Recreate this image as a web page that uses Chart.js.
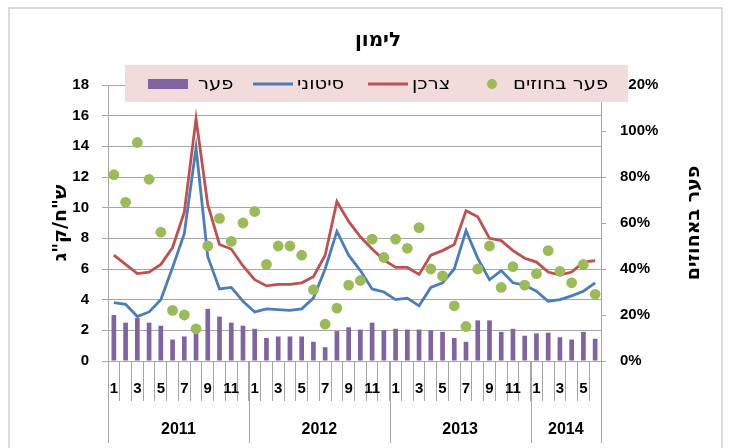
<!DOCTYPE html>
<html>
<head>
<meta charset="utf-8">
<script src="https://cdn.jsdelivr.net/npm/chart.js@4.4.1/dist/chart.umd.min.js"></script>
<style>
  html, body { margin: 0; padding: 0; background: #fff; }
  #wrap { width: 731px; height: 448px; }
</style>
</head>
<body>
<div id="wrap"><canvas id="chart"></canvas></div>
<script>
// months of each year, 2011-01 .. 2014-06
const monthLabels = [1, 2, 3, 4, 5, 6, 7, 8, 9, 10, 11, 12,
  1, 2, 3, 4, 5, 6, 7, 8, 9, 10, 11, 12,
  1, 2, 3, 4, 5, 6, 7, 8, 9, 10, 11, 12,
  1, 2, 3, 4, 5, 6]
const yearLabels = ["2011", "2012", "2013", "2014"]
const yearMonths = [12, 12, 12, 6]

// ש"ח/ק"ג
const consumer = [6.9, 6.3, 5.7, 5.8, 6.3, 7.4, 9.7, 15.8, 10.2, 7.6, 7.3, 6.2,
  5.3, 4.9, 5.0, 5.0, 5.1, 5.5, 6.9, 10.4, 9.1, 8.1, 7.3, 6.6,
  6.1, 6.1, 5.65, 6.9, 7.2, 7.6, 9.8, 9.4, 8.0, 7.85, 7.2, 6.7,
  6.45, 5.8, 5.6, 5.8, 6.45, 6.55]
const wholesale = [3.8, 3.7, 2.9, 3.2, 4.0, 6.1, 8.3, 13.9, 6.8, 4.7, 4.8, 3.9,
  3.2, 3.4, 3.35, 3.3, 3.4, 4.1, 6.0, 8.45, 6.9, 5.9, 4.7, 4.5,
  4.0, 4.1, 3.6, 4.8, 5.1, 6.0, 8.5, 6.7, 5.3, 5.9, 5.1, 4.95,
  4.55, 3.9, 4.0, 4.25, 4.55, 5.1]
const gap = [3.0, 2.5, 2.8, 2.5, 2.3, 1.4, 1.6, 1.9, 3.4, 2.9, 2.5, 2.3,
  2.1, 1.5, 1.6, 1.6, 1.6, 1.25, 0.9, 1.95, 2.2, 2.05, 2.5, 2.0,
  2.1, 2.05, 2.05, 2.0, 1.9, 1.5, 1.25, 2.65, 2.65, 1.9, 2.1, 1.65,
  1.8, 1.85, 1.55, 1.4, 1.9, 1.45]
// percent
const gapPct = [81, 69, 95, 79, 56, 22, 20, 14, 50, 62, 52, 60,
  65, 42, 50, 50, 46, 31, 16, 23, 33, 35, 53, 45,
  53, 49, 58, 40, 37, 24, 15, 40, 50, 32, 41, 33,
  38, 48, 39, 34, 42, 29]

const leftTicks = { min: 0, max: 18, step: 2 }
const rightTicks = { min: 0, max: 120, step: 20 }
const rightTitle = "פער באחוזים"

Chart.defaults.font.family = "'Liberation Sans', Arial, sans-serif"
Chart.defaults.color = "#000"

const hebrewFont = "'DejaVu Sans', sans-serif"
const gridColor = "#a6a6a6"
const tickFont = { size: 15, weight: "bold" }

// frame, year row, right title and the legend band drawn over the plot
const decorations = {
  id: "decorations",
  beforeDraw(chart) {
    const ctx = chart.ctx
    ctx.save()
    ctx.fillStyle = "#fff"
    ctx.fillRect(0, 0, chart.width, chart.height)
    ctx.strokeStyle = "#d0d0d0"
    ctx.lineWidth = 1.5
    ctx.strokeRect(9, 8, 713, 460)
    ctx.restore()
  },
  afterDraw(chart) {
    const ctx = chart.ctx
    const x = chart.scales.x
    const area = chart.chartArea
    const step = (x.right - x.left) / monthLabels.length
    ctx.save()

    // year boundaries and labels
    ctx.strokeStyle = gridColor
    ctx.lineWidth = 1
    ctx.fillStyle = "#000"
    ctx.font = "bold 16px 'Liberation Sans', Arial, sans-serif"
    ctx.textAlign = "center"
    ctx.textBaseline = "middle"
    let start = 0
    yearLabels.forEach((yr, k) => {
      const x0 = x.getPixelForValue(start) - step / 2
      const x1 = x.getPixelForValue(start + yearMonths[k] - 1) + step / 2
      ctx.beginPath()
      ctx.moveTo(Math.round(x0) + 0.5, x.top)
      ctx.lineTo(Math.round(x0) + 0.5, 443)
      ctx.moveTo(Math.round(x1) + 0.5, x.top)
      ctx.lineTo(Math.round(x1) + 0.5, 443)
      ctx.stroke()
      ctx.fillText(yr, (x0 + x1) / 2, 430)
      start += yearMonths[k]
    })

    // right axis title, read bottom-up like the left one
    ctx.save()
    ctx.translate(694, (area.top + area.bottom) / 2)
    ctx.rotate(-Math.PI / 2)
    ctx.font = "bold 19px " + hebrewFont
    ctx.fillText(rightTitle, 0, 0)
    ctx.restore()

    // legend
    ctx.fillStyle = "#f2dcdb"
    ctx.fillRect(125, 65, 503, 37)
    const swatchX = [148, 253, 368, 472]
    const textX = [198, 297, 412, 513]
    const midY = 84
    ctx.font = "17px " + hebrewFont
    ctx.textAlign = "left"
    const sets = chart.data.datasets.slice().reverse()
    sets.forEach((ds, k) => {
      const sx = swatchX[k]
      if (ds.type === "bar") {
        ctx.fillStyle = ds.backgroundColor
        ctx.fillRect(sx, midY - 5, 40, 10)
      } else if (ds.showLine === false) {
        ctx.fillStyle = ds.pointBackgroundColor
        ctx.beginPath()
        ctx.arc(sx + 20, midY, 5, 0, Math.PI * 2)
        ctx.fill()
      } else {
        ctx.strokeStyle = ds.borderColor
        ctx.lineWidth = ds.borderWidth
        ctx.beginPath()
        ctx.moveTo(sx, midY)
        ctx.lineTo(sx + 40, midY)
        ctx.stroke()
      }
      ctx.save()
      ctx.translate(textX[k], midY + 1)
      ctx.scale(1.15, 1)
      ctx.fillStyle = "#000"
      ctx.fillText(ds.label, 0, 0)
      ctx.restore()
    })
    ctx.restore()
  },
}

const ctx = document.getElementById("chart").getContext("2d")

new Chart(ctx, {
  data: {
    labels: monthLabels.map(String),
    datasets: [
      {
        type: "line",
        label: "פער בחוזים",
        data: gapPct,
        yAxisID: "y1",
        showLine: false,
        pointRadius: 5.4,
        pointBackgroundColor: "#9bbb59",
        pointBorderWidth: 0,
        order: 0,
      },
      {
        type: "line",
        label: "צרכן",
        data: consumer,
        yAxisID: "y",
        borderColor: "#c0504d",
        borderWidth: 2.8,
        pointRadius: 0,
        tension: 0,
        order: 1,
      },
      {
        type: "line",
        label: "סיטוני",
        data: wholesale,
        yAxisID: "y",
        borderColor: "#4a7ebb",
        borderWidth: 2.8,
        pointRadius: 0,
        tension: 0,
        order: 2,
      },
      {
        type: "bar",
        label: "פער",
        data: gap,
        yAxisID: "y",
        backgroundColor: "#8064a2",
        barPercentage: 0.4,
        categoryPercentage: 1,
        order: 3,
      },
    ],
  },
  options: {
    responsive: true,
    maintainAspectRatio: false,
    devicePixelRatio: 1,
    animation: false,
    layout: { padding: { left: 50, right: 25, top: 0, bottom: 0 } },
    plugins: {
      legend: { display: false },
      tooltip: { enabled: false },
      title: {
        display: true,
        text: "לימון",
        font: { size: 20, weight: "bold", family: hebrewFont },
        color: "#000",
        padding: { top: 29, bottom: 32 },
      },
    },
    scales: {
      x: {
        type: "category",
        offset: true,
        grid: { offset: true, drawOnChartArea: false, tickLength: 40, color: gridColor },
        border: { color: gridColor },
        ticks: {
          autoSkip: false,
          maxRotation: 0,
          minRotation: 0,
          padding: -21,
          font: tickFont,
          callback: (v, i) => (monthLabels[i] % 2 === 1 ? String(monthLabels[i]) : ""),
        },
        afterFit: (s) => { s.height = 87 },
      },
      y: {
        position: "left",
        min: leftTicks.min,
        max: leftTicks.max,
        ticks: { stepSize: leftTicks.step, font: tickFont, padding: 13 },
        grid: { color: gridColor, tickLength: 6 },
        border: { color: gridColor },
        title: {
          display: true,
          text: 'ש"ח/ק"ג',
          font: { size: 19, weight: "bold", family: hebrewFont },
          padding: { top: 0, bottom: 0 },
        },
        afterFit: (s) => { s.width = 58 },
      },
      y1: {
        position: "right",
        min: rightTicks.min,
        max: rightTicks.max,
        ticks: { stepSize: rightTicks.step, font: tickFont, padding: 14, callback: (v) => v + "%" },
        grid: { drawOnChartArea: false, color: gridColor, tickLength: 5 },
        border: { color: gridColor },
        afterFit: (s) => { s.width = 105 },
      },
    },
  },
  plugins: [decorations],
})
</script>
</body>
</html>
